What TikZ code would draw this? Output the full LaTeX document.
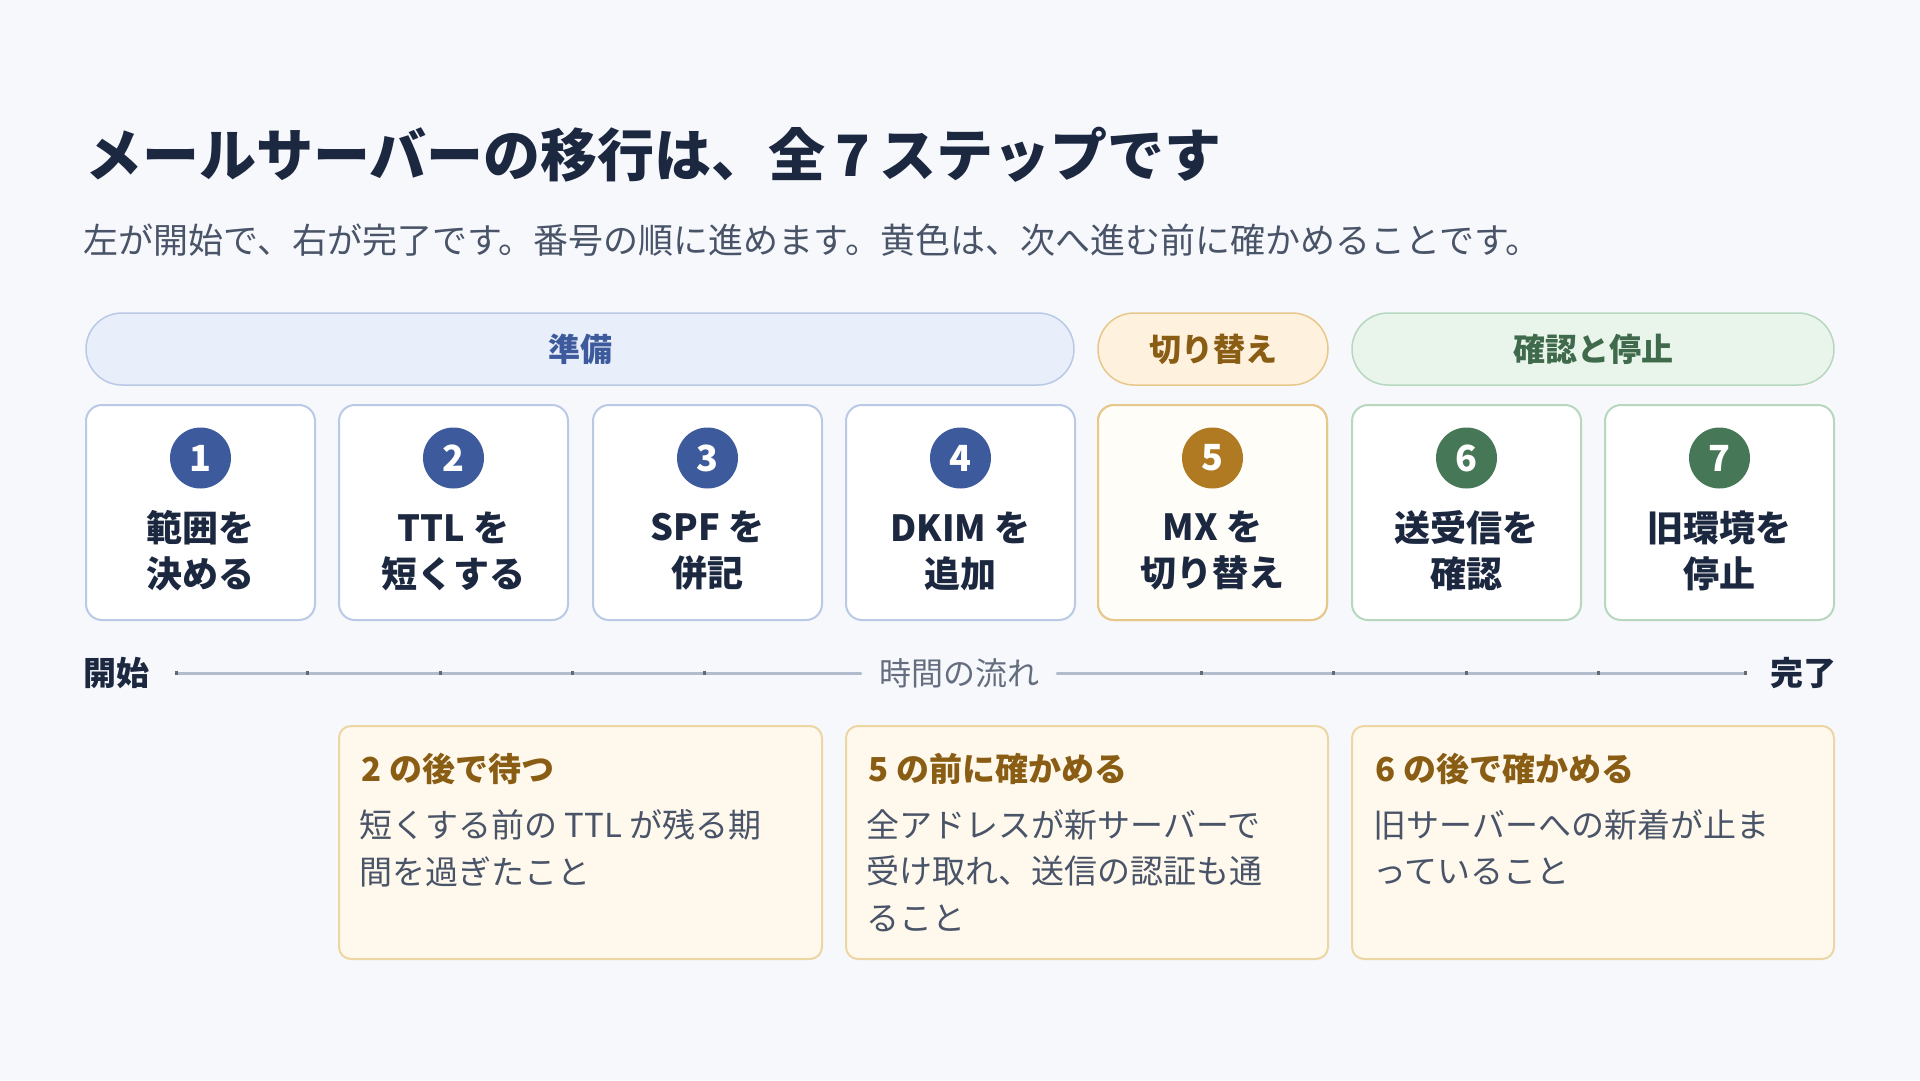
\documentclass[tikz,border=0pt]{standalone}
\usepackage{fontspec}
\setmainfont{Noto Sans CJK JP}
\definecolor{bg}{HTML}{F6F8FC}
\definecolor{ink}{HTML}{1C2740}
\definecolor{sub}{HTML}{4A5468}
\definecolor{bl}{HTML}{3C5A9C}
\definecolor{blf}{HTML}{E8EEFA}
\definecolor{blb}{HTML}{B9C9E6}
\definecolor{or}{HTML}{B07A22}
\definecolor{ort}{HTML}{8A5D14}
\definecolor{orf}{HTML}{FEF2DE}
\definecolor{orb}{HTML}{E8C78B}
\definecolor{gr}{HTML}{467756}
\definecolor{grt}{HTML}{3F6B4C}
\definecolor{grf}{HTML}{E9F4EB}
\definecolor{grb}{HTML}{B7D7BF}
\definecolor{nf}{HTML}{FEF9EC}
\definecolor{nb}{HTML}{EBD6A4}
\definecolor{tl}{HTML}{B3BCCD}
\begin{document}
\begin{tikzpicture}[x=1pt,y=-1pt,
 phase/.style={draw=#1b,fill=#1f,line width=1.5pt,rounded corners=36pt},
 card/.style={draw=#1,fill=white,line width=2pt,rounded corners=16pt},
 num/.style={circle,fill=#1,minimum size=61pt,inner sep=0pt,text=white,font=\fontsize{36}{36}\selectfont\bfseries},
 lab/.style={text=ink,font=\fontsize{36}{46}\selectfont\bfseries,align=center},
 note/.style={draw=nb,fill=nf,line width=2pt,rounded corners=12pt},
 nh/.style={anchor=west,text=ort,font=\fontsize{33}{33}\selectfont\bfseries},
 nt/.style={anchor=north west,text=sub,font=\fontsize{33}{46.5}\selectfont,align=left}]
\fill[bg] (0,0) rectangle (1920,1080);
\useasboundingbox (0,0) rectangle (1920,1080);
\node[anchor=west,text=ink,font=\fontsize{57}{57}\selectfont\bfseries] (title) at (82,155) {メールサーバーの移行は、全\,7\,ステップです};
\node[anchor=west,text=sub,font=\fontsize{35}{35}\selectfont] (subt) at (80,240) {左が開始で、右が完了です。番号の順に進めます。黄色は、次へ進む前に確かめることです。};
% phases
\draw[phase=bl] (86,313) rectangle (1074,385);
\node[text=bl,font=\fontsize{32}{32}\selectfont\bfseries] (p1) at (580,349) {準備};
\draw[phase=or] (1098,313) rectangle (1328,385);
\node[text=ort,font=\fontsize{32}{32}\selectfont\bfseries] (p2) at (1213,349) {切り替え};
\draw[phase=gr] (1352,313) rectangle (1834,385);
\node[text=grt,font=\fontsize{32}{32}\selectfont\bfseries] (p3) at (1593,349) {確認と停止};
% cards
\foreach \x/\n/\c/\t in {86/1/bl/{範囲を\\決める},339/2/bl/{TTL を\\短くする},593/3/bl/{SPF を\\併記},846/4/bl/{DKIM を\\追加},1098/5/or/{MX を\\切り替え},1352/6/gr/{送受信を\\確認},1605/7/gr/{旧環境を\\停止}}{
 \draw[card=\c b] (\x,405) rectangle ++(229,215);
 \ifnum\n=5 \fill[white!60!nf,rounded corners=15pt] (\x+1,406) rectangle ++(227,213);\draw[card=\c b,fill=none] (\x,405) rectangle ++(229,215);\fi
 \node[num=\c] (n\n) at (\x+114.5,458) {\n};
 \node[lab] (l\n) at (\x+114.5,551) {\t};
}
% timeline
\node[anchor=west,text=ink,font=\fontsize{33}{33}\selectfont\bfseries] (start) at (80,673) {開始};
\node[anchor=east,text=ink,font=\fontsize{33}{33}\selectfont\bfseries] (end) at (1840,673) {完了};
\node[text=sub!85,font=\fontsize{32}{32}\selectfont,inner xsep=18pt] (flow) at (959,673) {時間の流れ};
\coordinate (a) at (176,673); \coordinate (b) at (1745,673);
\draw[tl,line width=3pt,line cap=round] (a) -- (flow.west);
\draw[tl,line width=3pt,line cap=round] (flow.east) -- (b);
\foreach \t in {176,307,440,572,704,1201,1333,1466,1598,1745}
 \fill[gray!75!ink] (\t-1.5,671) rectangle (\t+1.5,675);
% notes
\draw[note] (339,726) rectangle (822,959);
\node[nh] (h1) at (358,769) {2 の後で待つ};
\node[nt] (t1) at (356,806) {短くする前の TTL が残る期\\間を過ぎたこと};
\draw[note] (846,726) rectangle (1328,959);
\node[nh] (h2) at (865,769) {5 の前に確かめる};
\node[nt] (t2) at (863,806) {全アドレスが新サーバーで\\受け取れ、送信の認証も通\\ること};
\draw[note] (1352,726) rectangle (1834,959);
\node[nh] (h3) at (1372,769) {6 の後で確かめる};
\node[nt] (t3) at (1370,806) {旧サーバーへの新着が止ま\\っていること};
\end{tikzpicture}
\end{document}
